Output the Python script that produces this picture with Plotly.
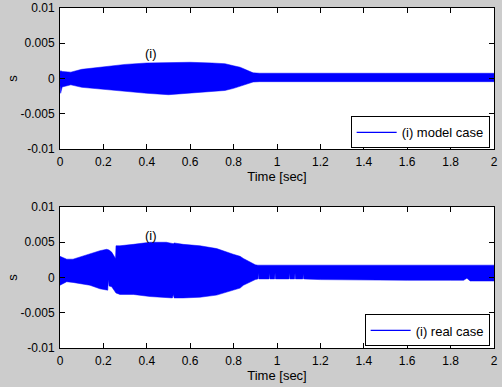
import plotly.graph_objects as go

# ---- data: envelope of the dense oscillating signal s(t) ----
t_model = [0.0, 0.003, 0.01, 0.05, 0.1, 0.15, 0.2, 0.3, 0.4, 0.5, 0.6, 0.7, 0.76, 0.8, 0.83, 0.86, 0.89, 0.92, 1.0, 1.5, 2.0]
up_model = [0.0010, 0.0011, 0.0010, 0.0009, 0.0013, 0.0015, 0.0017, 0.0020, 0.0022, 0.0023, 0.0023, 0.0022, 0.0021, 0.0018, 0.0016, 0.0012, 0.0008, 0.00075, 0.00074, 0.00074, 0.00074]
lo_model = [-0.0010, -0.0021, -0.0012, -0.0009, -0.00125, -0.0014, -0.0015, -0.0019, -0.0021, -0.0023, -0.0021, -0.0019, -0.0017, -0.0014, -0.0011, -0.0009, -0.0005, -0.00045, -0.00045, -0.00045, -0.00045]

t_real = [0.0, 0.031, 0.06, 0.138, 0.184, 0.215, 0.22, 0.223, 0.226, 0.238, 0.253, 0.256, 0.258, 0.276, 0.338, 0.415, 0.49, 0.518, 0.522, 0.526, 0.568, 0.645, 0.722, 0.798, 0.83, 0.845, 0.875, 0.9,
          0.912, 0.914, 0.916, 0.963, 0.965, 0.967, 0.989, 0.991, 0.993, 1.055, 1.057, 1.059, 1.081, 1.083, 1.085, 1.119, 1.121, 1.123,
          1.2, 1.4, 1.6, 1.8, 1.86, 1.875, 1.89, 1.9, 2.0]
up_real = [0.0030, 0.0026, 0.0026, 0.0034, 0.0038, 0.0040, 0.0040, 0.0040, 0.0039, 0.0036, 0.0027, 0.0027, 0.0045, 0.0045, 0.0047, 0.0050, 0.0050, 0.0049, 0.0048, 0.0049, 0.0047, 0.0045, 0.0041, 0.0033, 0.0030, 0.0027, 0.0022, 0.0018,
           0.00175, 0.00175, 0.00175, 0.00175, 0.00175, 0.00175, 0.00175, 0.00175, 0.00175, 0.00175, 0.00175, 0.00175, 0.00175, 0.00175, 0.00175, 0.00175, 0.00175, 0.00175,
           0.00175, 0.00175, 0.00175, 0.00175, 0.00175, 0.0017, 0.00175, 0.00175, 0.00175]
lo_real = [-0.0011, -0.0006, -0.0007, -0.0011, -0.0016, -0.0018, -0.0018, -0.0003, -0.0012, -0.0013, -0.0020, -0.0021, -0.0022, -0.0024, -0.0024, -0.0027, -0.0029, -0.0029, -0.0024, -0.0029, -0.0029, -0.0028, -0.0025, -0.0018, -0.0015, -0.0011, -0.0006, -0.0003,
           -0.0002, 0.00065, -0.0002, -0.0002, 0.00065, -0.0002, -0.0002, 0.00065, -0.0002, -0.0002, 0.00065, -0.0002, -0.0002, 0.00065, -0.0002, -0.0002, 0.00045, -0.0002,
           -0.0003, -0.0004, -0.0004, -0.0004, -0.0004, -0.0001, -0.0005, -0.0005, -0.0005]

x_ticks = [0, 0.2, 0.4, 0.6, 0.8, 1, 1.2, 1.4, 1.6, 1.8, 2]
x_tick_labels = ["0", "0.2", "0.4", "0.6", "0.8", "1", "1.2", "1.4", "1.6", "1.8", "2"]
y_ticks = [-0.01, -0.005, 0, 0.005, 0.01]
y_tick_labels = ["-0.01", "-0.005", "0", "0.005", "0.01"]

BLUE = "#0000ff"
FONT = "Liberation Sans"

fig = go.Figure()

def add_band(t, up, lo, xa, ya, name, legend):
    fig.add_trace(go.Scatter(x=t, y=up, mode="lines", line=dict(width=0.5, color=BLUE),
                             xaxis=xa, yaxis=ya, showlegend=False, hoverinfo="skip"))
    fig.add_trace(go.Scatter(x=t, y=lo, mode="lines", line=dict(width=0.5, color=BLUE),
                             fill="tonexty", fillcolor=BLUE,
                             xaxis=xa, yaxis=ya, showlegend=False, hoverinfo="skip"))
    fig.add_trace(go.Scatter(x=[None], y=[None], mode="lines", line=dict(width=1.2, color=BLUE),
                             xaxis=xa, yaxis=ya, name=name, legend=legend, showlegend=True))

add_band(t_model, up_model, lo_model, "x", "y", "(i) model case", "legend")
add_band(t_real, up_real, lo_real, "x2", "y2", "(i) real case", "legend2")

axis_common = dict(showline=True, linecolor="black", linewidth=1, mirror="ticks",
                   ticks="inside", ticklen=5, tickcolor="black", showgrid=False, zeroline=False,
                   automargin=False, ticklabelstandoff=2,
                   tickfont=dict(family=FONT, size=12, color="black"))
title_font = dict(family=FONT, size=13, color="black")

fig.update_layout(
    width=502, height=387,
    paper_bgcolor="#cccccc", plot_bgcolor="white",
    margin=dict(l=60, r=8, t=8, b=39, autoexpand=False),
    font=dict(family=FONT, size=13, color="black"),
    xaxis=dict(domain=[0, 1], range=[0, 2], tickvals=x_ticks, ticktext=x_tick_labels,
               anchor="y", title=dict(text="Time [sec]", standoff=0, font=title_font), **axis_common),
    yaxis=dict(domain=[0.5853, 1], range=[-0.01, 0.01], tickvals=y_ticks, ticktext=y_tick_labels,
               anchor="x", title=dict(text="s", standoff=0, font=title_font), **axis_common),
    xaxis2=dict(domain=[0, 1], range=[0, 2], tickvals=x_ticks, ticktext=x_tick_labels,
                anchor="y2", title=dict(text="Time [sec]", standoff=0, font=title_font), **axis_common),
    yaxis2=dict(domain=[0, 0.4147], range=[-0.01, 0.01], tickvals=y_ticks, ticktext=y_tick_labels,
                anchor="x2", title=dict(text="s", standoff=0, font=title_font), **axis_common),
    legend=dict(x=0.99, y=0.634, xanchor="right", yanchor="middle", bgcolor="white",
                bordercolor="black", borderwidth=1, itemwidth=40,
                font=dict(family=FONT, size=13, color="black")),
    legend2=dict(x=0.99, y=0.0515, xanchor="right", yanchor="middle", bgcolor="white",
                 bordercolor="black", borderwidth=1, itemwidth=40,
                 font=dict(family=FONT, size=13, color="black")),
    annotations=[
        dict(x=0.42, y=0.0036, xref="x", yref="y", text="(i)", showarrow=False,
             font=dict(family=FONT, size=13, color="black")),
        dict(x=0.42, y=0.0059, xref="x2", yref="y2", text="(i)", showarrow=False,
             font=dict(family=FONT, size=13, color="black")),
    ],
)

fig.write_html("out.html", config={"displayModeBar": False},
               post_script="document.body.style.margin='0';document.body.style.overflow='hidden';")
